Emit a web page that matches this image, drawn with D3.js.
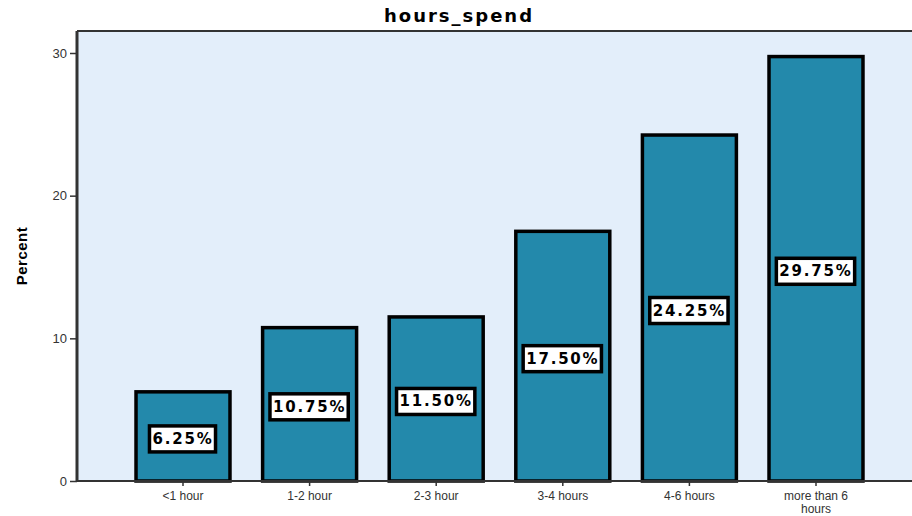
<!DOCTYPE html>
<html><head><meta charset="utf-8">
<script src="https://cdn.jsdelivr.net/npm/d3@7"></script>
<style>body{margin:0;background:#fff}svg{display:block}</style>
</head><body><svg id="c" width="912" height="516"></svg>
<script>
const categories = ["<1 hour","1-2 hour","2-3 hour","3-4 hours","4-6 hours","more than 6 hours"];
const percents = [6.25, 10.75, 11.50, 17.50, 24.25, 29.75];
const yTicks = [0, 10, 20, 30];

const svg = d3.select("#c");
const plotL = 77, plotT = 31, plotB = 481, plotR = 930;
const y = d3.scaleLinear().domain([0, 30]).range([plotB, 53]);
const x = d3.scaleBand().domain(categories).range([119.7, 879.3]).paddingInner(0.234).paddingOuter(0.117);

svg.append("rect").attr("x", plotL).attr("y", plotT).attr("width", plotR - plotL).attr("height", plotB - plotT)
  .attr("fill", "#e3eefa");
svg.append("line").attr("x1", plotL).attr("x2", plotR).attr("y1", plotT).attr("y2", plotT)
  .attr("stroke", "#333").attr("stroke-width", 2);

svg.selectAll("rect.bar").data(percents).join("rect").attr("class", "bar")
  .attr("x", (d, i) => x(categories[i]) + 1.5)
  .attr("width", x.bandwidth() - 3)
  .attr("y", d => y(d))
  .attr("height", d => y(0) - y(d))
  .attr("fill", "#2389ab").attr("stroke", "#000").attr("stroke-width", 3.5);

// axes
const yAxis = d3.axisLeft(y).tickValues(yTicks).tickSize(7).tickPadding(3);
const gy = svg.append("g").attr("transform", `translate(${plotL},0)`).call(yAxis);
gy.select(".domain").remove();
gy.append("line").attr("x1", 0).attr("x2", 0).attr("y1", plotT).attr("y2", plotB).attr("stroke", "#333").attr("stroke-width", 3);
gy.selectAll(".tick line").attr("stroke", "#333").attr("stroke-width", 1.5);
gy.selectAll(".tick text").attr("font-family", "Arial, Liberation Sans, sans-serif").attr("font-size", 13).attr("fill", "#333");

const xAxis = d3.axisBottom(x).tickSize(5).tickPadding(4).tickFormat(() => "");
const gx = svg.append("g").attr("transform", `translate(0,${plotB})`).call(xAxis);
gx.select(".domain").remove();
gx.append("line").attr("x1", plotL).attr("x2", plotR).attr("y1", 0).attr("y2", 0).attr("stroke", "#333").attr("stroke-width", 2);
gx.selectAll(".tick line").attr("stroke", "#333").attr("stroke-width", 1.5);
gx.selectAll(".tick").each(function(d) {
  const g = d3.select(this);
  const lines = d === "more than 6 hours" ? ["more than 6", "hours"] : [d];
  lines.forEach((t, j) => {
    g.append("text").attr("x", 0).attr("y", 19 + j * 13).attr("text-anchor", "middle")
      .attr("font-family", "Arial, Liberation Sans, sans-serif").attr("font-size", 12).attr("fill", "#333").text(t);
  });
});

// value labels
percents.forEach((v, i) => {
  const cx = x(categories[i]) + x.bandwidth() / 2, cy = y(v / 2) + 2.5;
  const g = svg.append("g");
  const t = g.append("text").attr("x", cx).attr("y", cy).attr("text-anchor", "middle").attr("dominant-baseline", "central")
    .attr("font-family", "DejaVu Sans, Verdana, sans-serif").attr("font-weight", "bold").attr("font-size", 15)
    .attr("letter-spacing", 1.8).attr("fill", "#000").text(v.toFixed(2) + "%");
  const bb = t.node().getBBox();
  g.insert("rect", "text").attr("x", bb.x - 3).attr("y", cy - 13).attr("width", bb.width + 5).attr("height", 26)
    .attr("fill", "#fff").attr("stroke", "#000").attr("stroke-width", 3.5);
});

svg.append("text").attr("x", 459).attr("y", 22).attr("text-anchor", "middle")
  .attr("font-family", "DejaVu Sans, Verdana, sans-serif").attr("font-weight", "bold").attr("font-size", 18)
  .attr("letter-spacing", 2).text("hours_spend");
svg.append("text").attr("transform", "translate(27,256) rotate(-90)").attr("text-anchor", "middle")
  .attr("font-family", "Arial, Liberation Sans, sans-serif").attr("font-weight", "bold").attr("font-size", 15)
  .attr("letter-spacing", 0.5).text("Percent");
</script></body></html>
